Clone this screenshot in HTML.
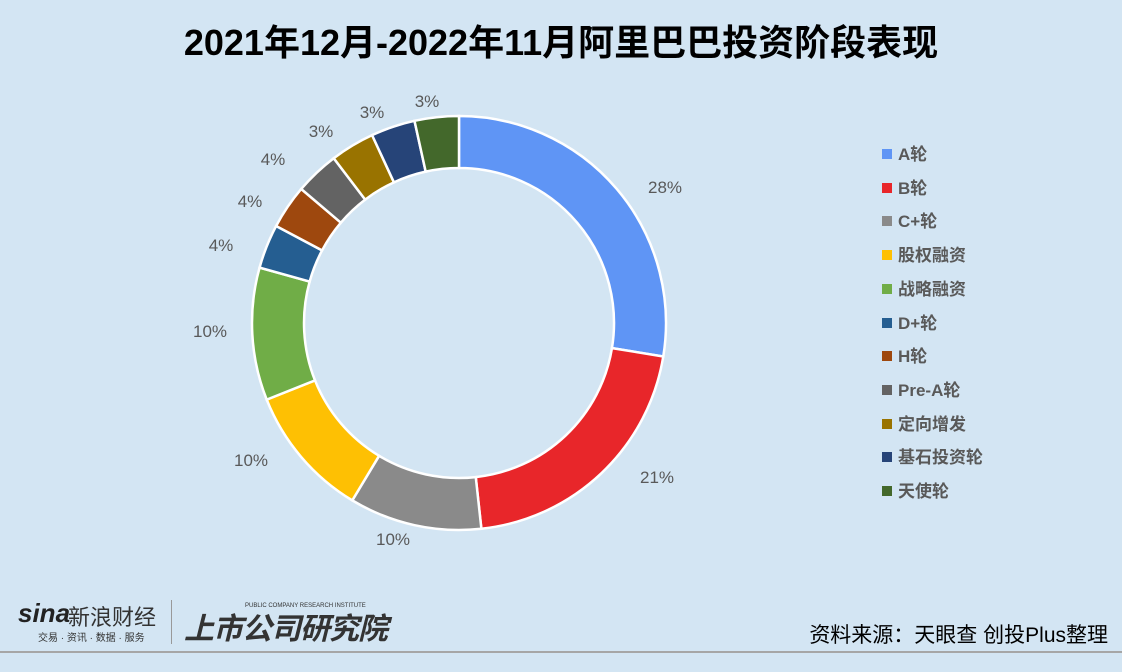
<!DOCTYPE html>
<html><head><meta charset="utf-8"><style>
body{margin:0;width:1122px;height:672px;background:#d3e5f3;overflow:hidden;position:relative;font-family:"Liberation Sans","Noto Sans CJK SC",sans-serif}
.t{position:absolute;left:0;width:1122px;top:14px;text-align:center;font-size:36px;font-weight:bold;color:#000;letter-spacing:0px}
.lg{position:absolute;left:882px;font-size:17px;font-weight:bold;color:#595959}
.lg i{display:inline-block;width:10px;height:10px;margin-right:6px;vertical-align:1px}
.lb{position:absolute;font-size:17px;color:#595959;transform:translate(-50%,-50%)}
</style></head><body>
<div class="t">2021年12月-2022年11月阿里巴巴投资阶段表现</div>
<svg id="s" width="1122" height="672" style="position:absolute;left:0;top:0"></svg>
<div class="lb" style="left:665px;top:188px">28%</div>
<div class="lb" style="left:657px;top:478px">21%</div>
<div class="lb" style="left:393px;top:540px">10%</div>
<div class="lb" style="left:251px;top:461px">10%</div>
<div class="lb" style="left:210px;top:332px">10%</div>
<div class="lb" style="left:221px;top:246px">4%</div>
<div class="lb" style="left:250px;top:202px">4%</div>
<div class="lb" style="left:273px;top:160px">4%</div>
<div class="lb" style="left:321px;top:132px">3%</div>
<div class="lb" style="left:372px;top:113px">3%</div>
<div class="lb" style="left:427px;top:102px">3%</div>
<div id="leg"></div>
<div style="position:absolute;left:18px;top:598px;font-size:26px;font-weight:bold;font-style:italic;color:#222">sina</div>
<div style="position:absolute;left:68px;top:600px;font-size:22px;color:#333">新浪财经</div>
<div style="position:absolute;left:38px;top:629px;font-size:10px;color:#333">交易 · 资讯 · 数据 · 服务</div>
<div style="position:absolute;left:171px;top:600px;width:1px;height:44px;background:#999"></div>
<div style="position:absolute;left:184px;top:604px;font-size:30px;font-weight:bold;font-style:italic;color:#333;letter-spacing:-1px">上市公司研究院</div>
<div style="position:absolute;left:245px;top:603px;font-size:6px;color:#333">PUBLIC COMPANY RESEARCH INSTITUTE</div>
<div style="position:absolute;right:14px;top:619px;font-size:21px;color:#000">资料来源：天眼查 创投Plus整理</div>
<div style="position:absolute;left:0;top:651px;width:1122px;height:2px;background:#a6a6a6"></div>
<script>
var c=["#5f95f5","#e8262a","#8a8a8a","#fec003","#70ad47","#255e91","#9e480e","#636363","#997300","#264478","#43682b"];
var n=["A轮","B轮","C+轮","股权融资","战略融资","D+轮","H轮","Pre-A轮","定向增发","基石投资轮","天使轮"];
var v=[8,6,3,3,3,1,1,1,1,1,1],T=29,cx=459,cy=323,R=207,r=155,a=0,h="";
function p(rad,an){return (cx+rad*Math.sin(an)).toFixed(2)+","+(cy-rad*Math.cos(an)).toFixed(2)}
for(var i=0;i<11;i++){var b=a+v[i]/T*2*Math.PI,l=(b-a)>Math.PI?1:0;
h+='<path d="M'+p(R,a)+'A'+R+','+R+' 0 '+l+' 1 '+p(R,b)+'L'+p(r,b)+'A'+r+','+r+' 0 '+l+' 0 '+p(r,a)+'Z" fill="'+c[i]+'" stroke="#fff" stroke-width="2.5"/>';a=b;}
document.getElementById("s").innerHTML=h;
var g="";for(i=0;i<11;i++)g+='<div class="lg" style="top:'+(140+i*33.7)+'px"><i style="background:'+c[i]+'"></i>'+n[i]+'</div>';
document.getElementById("leg").innerHTML=g;
</script>
</body></html>
